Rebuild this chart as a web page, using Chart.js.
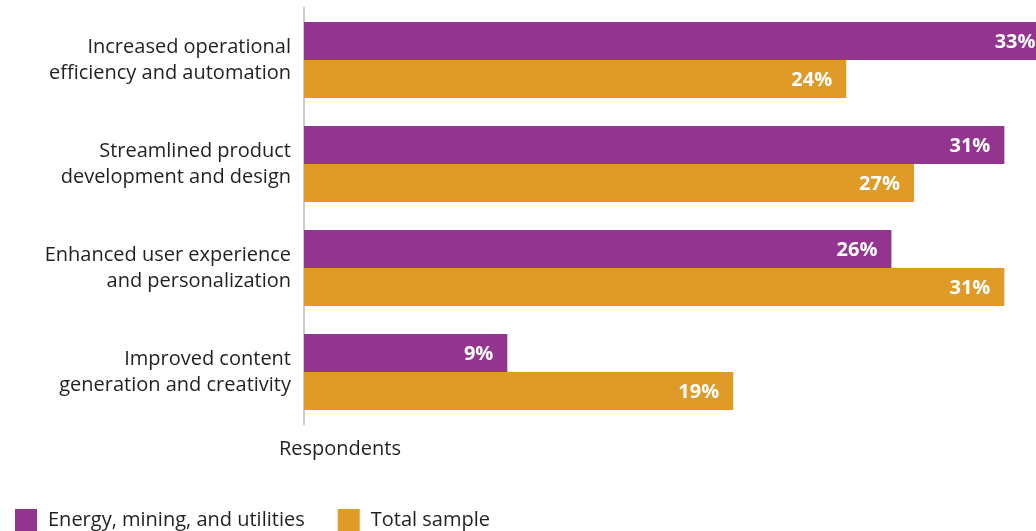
<!DOCTYPE html>
<html>
<head>
<meta charset="utf-8">
<script src="https://cdn.jsdelivr.net/npm/chart.js@4/dist/chart.umd.min.js"></script>
<style>
  html, body { margin: 0; padding: 0; background: #fff; }
  #wrap { position: relative; width: 1036px; height: 531px; }
</style>
</head>
<body>
<div id="wrap"><canvas id="benefits-chart" width="1036" height="531"></canvas></div>
<script>
// Benefits of generative AI, share of respondents
const categories = [
  ["Increased operational", "efficiency and automation"],
  ["Streamlined product", "development and design"],
  ["Enhanced user experience", "and personalization"],
  ["Improved content", "generation and creativity"],
];
const energyValues = [33, 31, 26, 9];
const totalValues = [24, 27, 31, 19];
const seriesNames = ["Energy, mining, and utilities", "Total sample"];
const axisTitle = "Respondents";

const PURPLE = "#93358f";
const ORANGE = "#e09a27";
const TEXT = "#231f20";
const FONT = "'Open Sans', sans-serif";

// white value labels inside the end of each bar
const barValueLabels = {
  id: "barValueLabels",
  afterDatasetsDraw(chart) {
    const ctx = chart.ctx;
    ctx.save();
    ctx.font = "bold 20px " + FONT;
    ctx.fillStyle = "#fff";
    ctx.textAlign = "right";
    ctx.textBaseline = "middle";
    chart.data.datasets.forEach((ds, i) => {
      chart.getDatasetMeta(i).data.forEach((bar, j) => {
        ctx.fillText(ds.data[j] + "%", bar.x - 14, bar.y + 1);
      });
    });
    ctx.restore();
  },
};

// axis title and legend drawn below the plot
const footer = {
  id: "footer",
  afterDraw(chart) {
    const ctx = chart.ctx;
    ctx.save();
    ctx.font = "20px " + FONT;
    ctx.fillStyle = TEXT;
    ctx.textBaseline = "middle";
    ctx.textAlign = "center";
    ctx.fillText(axisTitle, 340, 449);

    ctx.textAlign = "left";
    let x = 15;
    chart.data.datasets.forEach((ds) => {
      ctx.fillStyle = ds.backgroundColor;
      ctx.fillRect(x, 509, 22, 22);
      ctx.fillStyle = TEXT;
      ctx.fillText(ds.label, x + 33, 520);
      x += 33 + ctx.measureText(ds.label).width + 33;
    });
    ctx.restore();
  },
};

new Chart(document.getElementById("benefits-chart"), {
  type: "bar",
  data: {
    labels: categories,
    datasets: [
      { label: seriesNames[0], data: energyValues, backgroundColor: PURPLE },
      { label: seriesNames[1], data: totalValues, backgroundColor: ORANGE },
    ],
  },
  options: {
    indexAxis: "y",
    responsive: false,
    animation: false,
    layout: { padding: { top: 8, bottom: 107, left: 0, right: 0 } },
    datasets: { bar: { categoryPercentage: 0.73, barPercentage: 1 } },
    plugins: { legend: { display: false }, tooltip: { enabled: false } },
    scales: {
      x: { display: false, min: 0, max: 32.4 },
      y: {
        afterFit(scale) {
          scale.width = 304;
          scale.paddingTop = 0;
          scale.paddingBottom = 0;
        },
        grid: { display: false, drawTicks: false },
        border: { display: true, color: "#cccccc", width: 2 },
        ticks: {
          padding: 13,
          color: TEXT,
          font: { family: FONT, size: 20, lineHeight: 1.3 },
        },
      },
    },
  },
  plugins: [barValueLabels, footer],
});
</script>
</body>
</html>
